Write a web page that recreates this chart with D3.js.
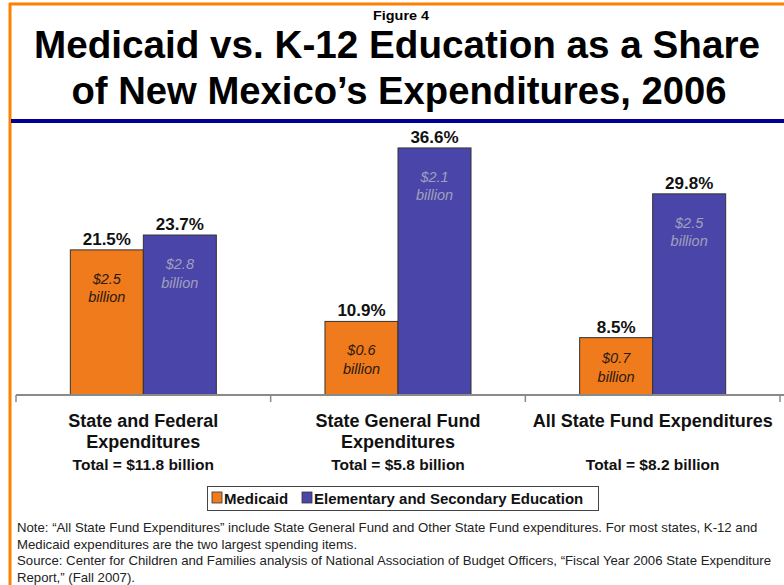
<!DOCTYPE html>
<html>
<head>
<meta charset="utf-8">
<script src="https://cdn.jsdelivr.net/npm/d3@7"></script>
<style>
  body { margin: 0; background: #fff; }
  svg { display: block; font-family: "Liberation Sans", Arial, sans-serif; }
</style>
</head>
<body>
<div id="chart"></div>
<script>
// chart data
var groups = ["State and Federal|Expenditures", "State General Fund|Expenditures", "All State Fund Expenditures"];
var totals = ["Total = $11.8 billion", "Total = $5.8 billion", "Total = $8.2 billion"];
var series = ["Medicaid", "Elementary and Secondary Education"];
var medicaidPct = [21.5, 10.9, 8.5];
var educationPct = [23.7, 36.6, 29.8];
var medicaidAmt = ["$2.5", "$0.6", "$0.7"];
var educationAmt = ["$2.8", "$2.1", "$2.5"];
var noteLines = [
  "Note: \u201cAll State Fund Expenditures\u201d  include State General Fund and Other State Fund expenditures. For most states, K-12 and",
  "Medicaid expenditures are the two largest spending items.",
  "Source: Center for Children and Families analysis of National Association of Budget Officers, \u201cFiscal Year 2006 State Expenditure",
  "Report,\u201d (Fall 2007)."
];

var width = 784, height = 585;
var colors = { "Medicaid": "#f07b1c", "Elementary and Secondary Education": "#4a45a8" };

var svg = d3.select("#chart").append("svg")
  .attr("width", width)
  .attr("height", height);

// frame
svg.append("line").attr("x1", 9).attr("x2", width).attr("y1", 4).attr("y2", 4)
  .attr("stroke", "#ff8000").attr("stroke-width", 3);
svg.append("line").attr("x1", 10).attr("x2", 10).attr("y1", 3).attr("y2", height)
  .attr("stroke", "#ff8000").attr("stroke-width", 3);

// titles
svg.append("text").attr("x", 401).attr("y", 20)
  .attr("text-anchor", "middle").attr("font-weight", "bold").attr("font-size", 13.5)
  .attr("textLength", 56).attr("lengthAdjust", "spacingAndGlyphs")
  .text("Figure 4");
svg.append("text").attr("x", 397).attr("y", 58)
  .attr("text-anchor", "middle").attr("font-weight", "bold").attr("font-size", 39)
  .attr("textLength", 726).attr("lengthAdjust", "spacingAndGlyphs")
  .text("Medicaid vs. K-12 Education as a Share");
svg.append("text").attr("x", 399).attr("y", 104)
  .attr("text-anchor", "middle").attr("font-weight", "bold").attr("font-size", 39)
  .attr("textLength", 655).attr("lengthAdjust", "spacingAndGlyphs")
  .text("of New Mexico\u2019s Expenditures, 2006");

svg.append("rect").attr("x", 11).attr("y", 119).attr("width", width - 11).attr("height", 4)
  .attr("fill", "#000099");

// scales
var x0 = d3.scaleBand().domain(groups).range([16, 780]);
var x1 = d3.scaleBand().domain(series).range([0, x0.bandwidth()]).paddingOuter(0.744);
var y = d3.scaleLinear().domain([0, 40]).range([395, 125]);

var rows = groups.map(function(g, i) {
  return {
    group: g,
    total: totals[i],
    bars: [
      { key: series[0], value: medicaidPct[i], amt: medicaidAmt[i] },
      { key: series[1], value: educationPct[i], amt: educationAmt[i] }
    ]
  };
});

var g = svg.selectAll(".grp").data(rows).enter().append("g")
  .attr("transform", function(d) { return "translate(" + x0(d.group) + ",0)"; });

g.selectAll("rect").data(function(d) { return d.bars; }).enter().append("rect")
  .attr("x", function(d) { return x1(d.key); })
  .attr("y", function(d) { return y(d.value); })
  .attr("width", x1.bandwidth())
  .attr("height", function(d) { return y(0) - y(d.value); })
  .attr("fill", function(d) { return colors[d.key]; })
  .attr("stroke", "#333").attr("stroke-width", 1);

// percent labels
g.selectAll(".pct").data(function(d) { return d.bars; }).enter().append("text")
  .attr("x", function(d) { return x1(d.key) + x1.bandwidth() / 2; })
  .attr("y", function(d) { return y(d.value) - 5; })
  .attr("text-anchor", "middle").attr("font-weight", "bold").attr("font-size", 17)
  .attr("fill", "#111")
  .text(function(d) { return d.value.toFixed(1) + "%"; });

// amount labels inside bars
var amt = g.selectAll(".amt").data(function(d) { return d.bars; }).enter().append("text")
  .attr("text-anchor", "middle").attr("font-style", "italic").attr("font-size", 14.5)
  .attr("fill", function(d) { return d.key === "Medicaid" ? "#2a1a10" : "#a0a0bc"; });
amt.append("tspan")
  .attr("x", function(d) { return x1(d.key) + x1.bandwidth() / 2; })
  .attr("y", function(d) { return Math.min(y(d.value) + 34, y(0) - 32); })
  .text(function(d) { return d.amt; });
amt.append("tspan")
  .attr("x", function(d) { return x1(d.key) + x1.bandwidth() / 2; })
  .attr("dy", 18.5)
  .text("billion");

// axis
var axis = svg.append("g").attr("transform", "translate(0," + y(0) + ")")
  .call(d3.axisBottom(x0).tickSize(0).tickFormat(""));
axis.select(".domain").remove();
axis.append("line").attr("x1", 16).attr("x2", width).attr("y1", 0).attr("y2", 0)
  .attr("stroke", "#8a8a8a").attr("stroke-width", 2);
axis.selectAll(".sep").data(groups.concat(["end"])).enter().append("line")
  .attr("x1", function(d, i) { return i < groups.length ? x0(d) : x0.range()[1]; })
  .attr("x2", function(d, i) { return i < groups.length ? x0(d) : x0.range()[1]; })
  .attr("y1", 0).attr("y2", 7)
  .attr("stroke", "#8a8a8a").attr("stroke-width", 1.5);

// category labels
rows.forEach(function(d) {
  var cx = x0(d.group) + x0.bandwidth() / 2;
  var parts = d.group.split("|");
  parts.forEach(function(p, j) {
    svg.append("text").attr("x", cx).attr("y", 427 + j * 21)
      .attr("text-anchor", "middle").attr("font-weight", "bold").attr("font-size", 18)
      .attr("fill", "#111").text(p);
  });
  svg.append("text").attr("x", cx).attr("y", 470)
    .attr("text-anchor", "middle").attr("font-weight", "bold").attr("font-size", 15.5)
    .attr("fill", "#111").text(d.total);
});

// legend
var leg = svg.append("g");
leg.append("rect").attr("x", 207.5).attr("y", 486.5).attr("width", 391).attr("height", 24)
  .attr("fill", "#fff").attr("stroke", "#444");
var legX = [212, 302];
series.forEach(function(s, i) {
  leg.append("rect").attr("x", legX[i]).attr("y", 492).attr("width", 10).attr("height", 11)
    .attr("fill", colors[s]).attr("stroke", "#333").attr("stroke-width", 0.8);
  leg.append("text").attr("x", legX[i] + 12).attr("y", 504)
    .attr("font-weight", "bold").attr("font-size", 15).attr("fill", "#111").text(s);
});

// notes
svg.selectAll(".note").data(noteLines).enter().append("text")
  .attr("x", 17).attr("y", function(d, i) { return 532 + i * 16.7; })
  .attr("font-size", 13.2).attr("fill", "#222")
  .text(function(d) { return d; });
</script>
</body>
</html>
